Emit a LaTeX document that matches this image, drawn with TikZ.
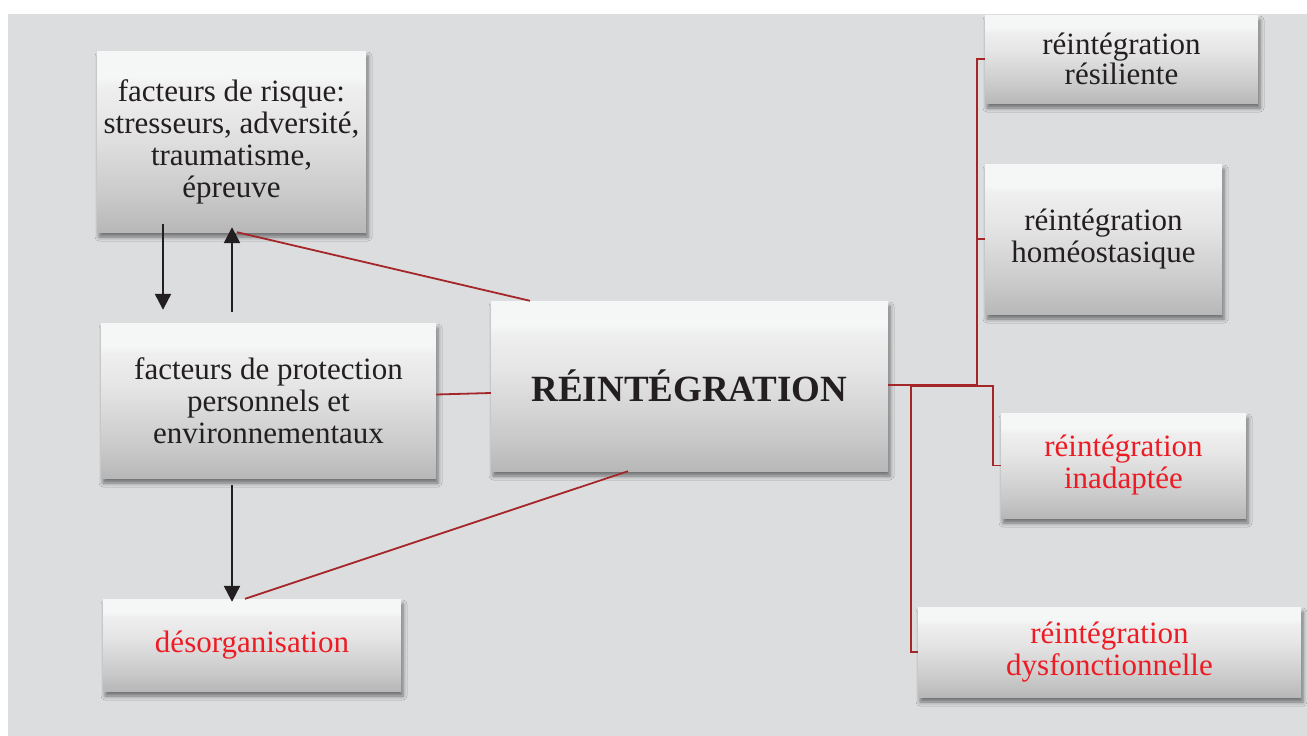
\documentclass[tikz,border=0pt]{standalone}
\usepackage{fontspec}
\setmainfont{Liberation Serif}
\usetikzlibrary{shadows.blur,arrows.meta}
\definecolor{bg}{RGB}{220,221,223}
\definecolor{txt}{RGB}{35,31,32}
\definecolor{redtxt}{RGB}{237,28,36}
\definecolor{link}{RGB}{165,38,40}
\pgfdeclareverticalshading{boxshade}{100bp}{rgb(0bp)=(0.72,0.72,0.72); rgb(25bp)=(0.72,0.72,0.72); rgb(35bp)=(0.79,0.79,0.79); rgb(55bp)=(0.90,0.90,0.90); rgb(65bp)=(0.935,0.935,0.935); rgb(68bp)=(0.962,0.967,0.967); rgb(100bp)=(0.962,0.967,0.967)}
\tikzset{
  card/.style={shading=boxshade, inner sep=0pt, align=center, text=txt,
    font=\fontsize{31}{32}\selectfont,
    blur shadow={shadow xshift=2pt, shadow yshift=-5pt, shadow blur radius=4pt, shadow opacity=50}},
  redcard/.style={card, text=redtxt},
  arr/.style={draw=txt, line width=2.4pt, -{Triangle[length=16pt,width=16pt]}},
  link/.style={draw=link, line width=1.8pt}
}
\begin{document}
\begin{tikzpicture}[x=1pt,y=-1pt]
\useasboundingbox (0,0) rectangle (1307,736);
\fill[white] (0,0) rectangle (1307,736);
\fill[bg] (8,14) rectangle (1307,736);

\node[card, minimum width=269pt, minimum height=181pt] (risk) at (231.5,141.5)
  {facteurs de risque:\\stresseurs, adversité,\\traumatisme,\\épreuve};
\node[card, minimum width=335pt, minimum height=155pt] (prot) at (268.5,400.5)
  {facteurs de protection\\personnels et\\environnementaux};
\node[redcard, minimum width=298pt, minimum height=92pt] (desorg) at (252,645)
  {désorganisation};
\node[card, minimum width=397pt, minimum height=170pt, font=\bfseries\fontsize{37}{40}\selectfont] (reint) at (689.5,386)
  {RÉINTÉGRATION};
\node[card, minimum width=273pt, minimum height=88pt, font=\fontsize{31}{30}\selectfont] (res) at (1121.5,59)
  {réintégration\\résiliente};
\node[card, minimum width=237pt, minimum height=150pt] (hom) at (1103.5,239)
  {réintégration\\homéostasique};
\node[redcard, minimum width=245pt, minimum height=105pt] (inad) at (1123.5,465.5)
  {réintégration\\inadaptée};
\node[redcard, minimum width=383pt, minimum height=90pt] (dys) at (1109.5,652)
  {réintégration\\dysfonctionnelle};

% black arrows
\draw[arr] ([xshift=-68.5pt,yshift=8pt]risk.south) -- ([xshift=-105.5pt,yshift=13pt]prot.north);
\draw[arr] ([xshift=-36.5pt,yshift=11pt]prot.north) -- ([xshift=0.5pt,yshift=5pt]risk.south);
\draw[arr] ([xshift=-36.5pt,yshift=-7pt]prot.south) -- ([xshift=-20pt,yshift=-3pt]desorg.north);

% red links on the left
\draw[link] ([xshift=5.5pt]risk.south) -- ([xshift=-159.5pt]reint.north);
\draw[link] ([yshift=6pt]prot.east) -- ([yshift=-7pt]reint.west);
\draw[link] ([xshift=-7pt]desorg.north) -- ([xshift=-61.5pt]reint.south);

% red links on the right
\draw[link] ([yshift=1pt]reint.east) -| ([xshift=-8pt]res.west) -- (res.west);
\draw[link] ([xshift=-8pt]hom.west) -- (hom.west);
\draw[link] ([xshift=23pt]reint.east) -- ([xshift=105pt]reint.east) |- (inad.west);
\draw[link] ([xshift=23pt]reint.east) |- (dys.west);
\end{tikzpicture}
\end{document}
